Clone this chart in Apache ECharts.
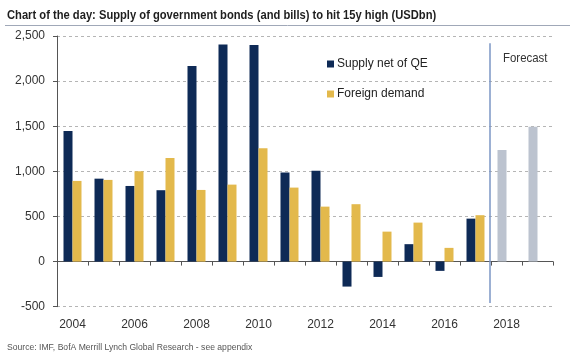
<!DOCTYPE html>
<html>
<head>
<meta charset="utf-8">
<script src="https://cdn.jsdelivr.net/npm/echarts@6/dist/echarts.min.js"></script>
<style>html,body{margin:0;padding:0;background:#fff}#c{width:570px;height:364px}</style>
</head>
<body>
<div id="c"></div>
<script>
var years = ['2004','2005','2006','2007','2008','2009','2010','2011','2012','2013','2014','2015','2016','2017','2018','2019'];
var supplyNetOfQE = [1447, 919, 838, 791, 2167, 2407, 2400, 986, 1008, -277, -170, 193, -103, 476, null, null];
var foreignDemand = [894, 905, 1001, 1148, 794, 853, 1256, 820, 609, 636, 332, 432, 152, 514, null, null];
var forecastSupply = [null, null, null, null, null, null, null, null, null, null, null, null, null, null, 1237, 1495];
var yTicks = [-500, 0, 500, 1000, 1500, 2000, 2500];

var NAVY = '#0e2a56', GOLD = '#e3b94c', GREY = '#bcc3cf';
var FONT = '"Liberation Sans Narrow", "Arial Narrow", "Liberation Sans", Arial, sans-serif';

var supplyData = years.map(function (y, i) {
  if (forecastSupply[i] != null) return { value: forecastSupply[i], itemStyle: { color: GREY } };
  return supplyNetOfQE[i];
});

var chart = echarts.init(document.getElementById('c'), null, { renderer: 'canvas' });
var option = {
  animation: false,
  grid: { left: 57, right: 17, top: 36, bottom: 57.3, containLabel: false, outerBoundsMode: 'none' },
  legend: {
    orient: 'vertical', left: 327, top: 58, padding: 0,
    itemWidth: 7, itemHeight: 7, itemGap: 18,
    icon: 'rect',
    textStyle: { fontFamily: FONT, fontSize: 12, color: '#222', padding: [0, 0, 0, -2] },
    data: ['Supply net of QE', 'Foreign demand']
  },
  xAxis: {
    type: 'category', data: years, boundaryGap: true,
    axisLine: { onZero: true, lineStyle: { color: '#555', width: 1 } },
    axisTick: { show: true, length: 4, lineStyle: { color: '#555' }, interval: 0 },
    axisLabel: { interval: 1, margin: 12, fontFamily: FONT, fontSize: 12, color: '#333' },
    splitLine: { show: false }
  },
  yAxis: {
    type: 'value', min: yTicks[0], max: yTicks[yTicks.length - 1], interval: 500,
    axisLine: { show: true, lineStyle: { color: '#555' } },
    axisTick: { show: true, length: 4, lineStyle: { color: '#555' } },
    axisLabel: {
      margin: 12, fontFamily: FONT, fontSize: 12, color: '#333',
      formatter: function (v) { return v.toLocaleString('en-US'); }
    },
    splitLine: { show: true, lineStyle: { color: '#b5b5b5', type: [3, 3], width: 1 } }
  },
  series: [
    { name: 'Supply net of QE', type: 'bar', data: supplyData, barWidth: 9, barGap: '0%', itemStyle: { color: NAVY } },
    { name: 'Foreign demand', type: 'bar', data: foreignDemand, barWidth: 9, barGap: '0%', itemStyle: { color: GOLD } }
  ]
};
chart.setOption(option);

var p17 = chart.convertToPixel({ xAxisIndex: 0, yAxisIndex: 0 }, ['2017', 2420]);
var p18 = chart.convertToPixel({ xAxisIndex: 0, yAxisIndex: 0 }, ['2018', -460]);
var lx = (p17[0] + p18[0]) / 2 - 1;
chart.setOption({
  graphic: [
    { type: 'text', x: 7, y: 9, scaleX: 0.86, style: { text: 'Chart of the day: Supply of government bonds (and bills) to hit 15y high (USDbn)', font: 'bold 13px ' + FONT, fill: '#1e1e1e' }, silent: true },
    { type: 'line', shape: { x1: 5, y1: 25.5, x2: 570, y2: 25.5 }, style: { stroke: '#a0a8b8', lineWidth: 1 }, silent: true },
    { type: 'line', shape: { x1: lx, y1: p17[1], x2: lx, y2: p18[1] }, style: { stroke: '#7b96c4', lineWidth: 1.5 }, z: 10, silent: true },
    { type: 'text', x: lx + 13, y: 52, scaleX: 0.88, style: { text: 'Forecast', font: '13px ' + FONT, fill: '#333' }, silent: true },
    { type: 'text', x: 7, y: 343, scaleX: 0.955, style: { text: 'Source: IMF, BofA Merrill Lynch Global Research - see appendix', font: '9px "Liberation Sans", Arial, sans-serif', fill: '#555' }, silent: true }
  ]
});
</script>
</body>
</html>
